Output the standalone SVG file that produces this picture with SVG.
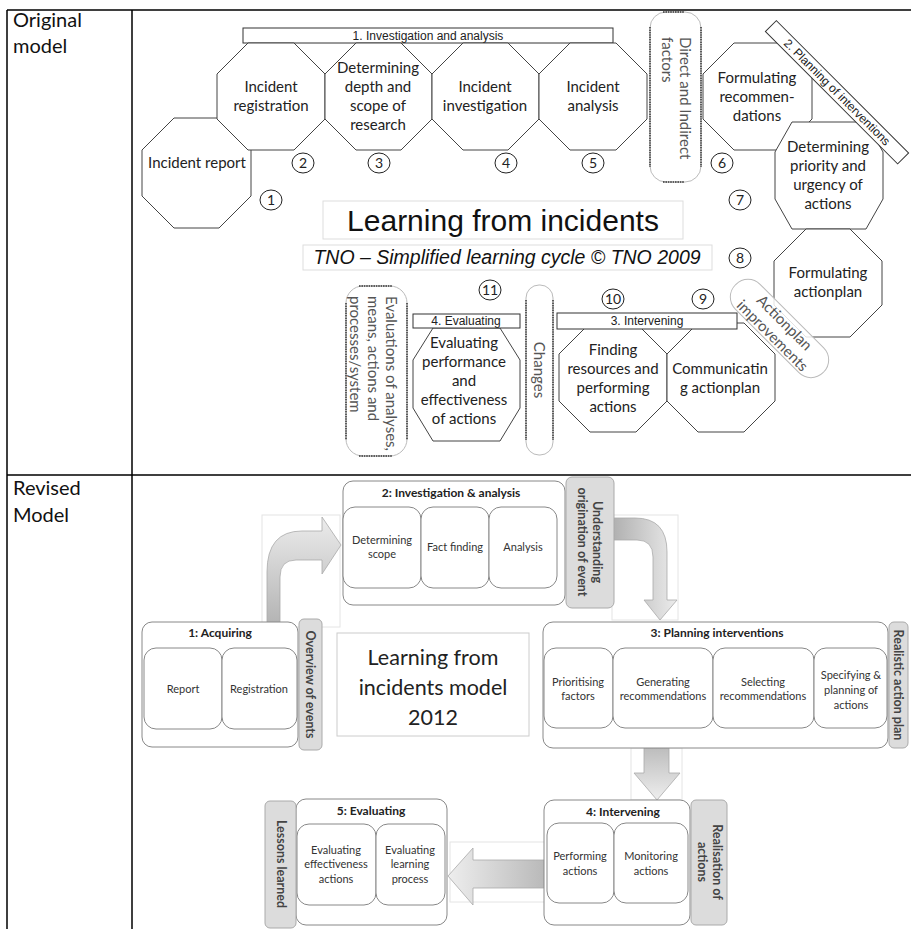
<svg xmlns="http://www.w3.org/2000/svg" width="911" height="929" viewBox="0 0 911 929">
<defs>
<style>
.grid{stroke:#000;stroke-width:1.5;fill:none}
.hd{font-family:Lato,"Open Sans",sans-serif;font-size:20px;fill:#111}
.oct{fill:#fff;stroke:#444;stroke-width:1}
.ot{font-family:Lato,"Open Sans",sans-serif;font-size:15px;fill:#222;text-anchor:middle}
.bar{fill:#fff;stroke:#333;stroke-width:1}
.bt{font-family:"Liberation Sans",Arial,sans-serif;font-size:12px;fill:#222;text-anchor:middle}
.num{fill:#fff;stroke:#222;stroke-width:1}
.nt{font-family:Lato,"Open Sans",sans-serif;font-size:14px;fill:#222;text-anchor:middle}
.pill{fill:#fff;stroke:#bbb;stroke-width:1}
.dash{stroke:#333;stroke-width:1.5;stroke-dasharray:1.6 0.8;fill:none}
.pt{font-family:Lato,"Open Sans",sans-serif;font-size:15px;fill:#555;dominant-baseline:central}
.ttl{fill:#fff;stroke:#ddd;stroke-width:1}
.box{fill:#fff;stroke:#888;stroke-width:1}
.inner{fill:#fff;stroke:#888;stroke-width:1}
.tab{fill:#dcdcdc;stroke:#aaa;stroke-width:1}
.frame{fill:none;stroke:#e4e4e4;stroke-width:1}
.bh{font-family:Lato,"Open Sans",sans-serif;font-size:12px;font-weight:bold;fill:#222;text-anchor:middle}
.it{font-family:Lato,"Open Sans",sans-serif;font-size:11px;fill:#333;text-anchor:middle}
.tt{font-family:Lato,"Open Sans",sans-serif;font-size:12.5px;font-weight:bold;fill:#444;text-anchor:middle;dominant-baseline:central}
</style>
<linearGradient id="gv" x1="0" y1="1" x2="0" y2="0">
<stop offset="0" stop-color="#b4b4b4"/><stop offset="1" stop-color="#ececec"/>
</linearGradient>
<linearGradient id="gh" x1="0" y1="0" x2="1" y2="0">
<stop offset="0" stop-color="#b0b0b0"/><stop offset="1" stop-color="#ececec"/>
</linearGradient>
<linearGradient id="gd" x1="0" y1="0" x2="0" y2="1">
<stop offset="0" stop-color="#bdbdbd"/><stop offset="1" stop-color="#eeeeee"/>
</linearGradient>
<linearGradient id="gl" x1="1" y1="0" x2="0" y2="0">
<stop offset="0" stop-color="#b8b8b8"/><stop offset="1" stop-color="#eeeeee"/>
</linearGradient>
</defs>
<rect width="911" height="929" fill="#fff"/>

<g id="table">
<path class="grid" d="M7,10 H911 M7,10 V929 M132,10 V929 M7,475 H911"/>
<text class="hd" x="13" y="27">Original</text>
<text class="hd" x="13" y="53">model</text>
<text class="hd" x="13" y="495">Revised</text>
<text class="hd" x="13" y="522">Model</text>
</g>

<!-- ORIGINAL MODEL -->
<g id="bar-investigation">
<rect class="bar" x="243" y="28" width="370" height="15"/>
<text class="bt" x="428" y="40">1. Investigation and analysis</text>
</g>
<g id="n1-incident-report">
<polygon class="oct" points="174,118 219,118 251,150 251,196 219,228 174,228 142,196 142,150"/>
<text class="ot" x="197" y="168">Incident report</text>
</g>
<g id="n2-incident-registration">
<polygon class="oct" points="248,43 294,43 325,74 325,119 294,150 248,150 217,119 217,74"/>
<text class="ot" x="271" y="92">Incident</text>
<text class="ot" x="271" y="111">registration</text>
</g>
<g id="n3-determining-depth">
<polygon class="oct" points="356,43 401,43 432,74 432,119 401,150 356,150 325,119 325,74"/>
<text class="ot" x="378" y="73">Determining</text>
<text class="ot" x="378" y="92">depth and</text>
<text class="ot" x="378" y="111">scope of</text>
<text class="ot" x="378" y="130">research</text>
</g>
<g id="n4-incident-investigation">
<polygon class="oct" points="463,43 508,43 539,74 539,119 508,150 463,150 432,119 432,74"/>
<text class="ot" x="485" y="92">Incident</text>
<text class="ot" x="485" y="111">investigation</text>
</g>
<g id="n5-incident-analysis">
<polygon class="oct" points="570,43 616,43 647,74 647,119 616,150 570,150 539,119 539,74"/>
<text class="ot" x="593" y="92">Incident</text>
<text class="ot" x="593" y="111">analysis</text>
</g>
<g id="pill-direct-factors">
<rect class="pill" x="650" y="12" width="51" height="170" rx="16"/>
<path class="dash" d="M650,27 V167 M701,27 V167 M663,12 H684 M663,182 H684"/>
<text class="pt" transform="translate(686,37) rotate(90)">Direct and Indirect</text>
<text class="pt" transform="translate(668,37) rotate(90)">factors</text>
</g>
<g id="n6-formulating-recommendations">
<polygon class="oct" points="734,43 781,43 812,74 812,119 781,150 734,150 703,119 703,74"/>
<text class="ot" x="757" y="83">Formulating</text>
<text class="ot" x="757" y="102">recommen-</text>
<text class="ot" x="757" y="121">dations</text>
</g>
<g id="n7-determining-priority">
<polygon class="oct" points="792,122 866,122 883,152 883,199 866,229 792,229 775,199 775,152"/>
<text class="ot" x="828" y="152">Determining</text>
<text class="ot" x="828" y="171">priority and</text>
<text class="ot" x="828" y="190">urgency of</text>
<text class="ot" x="828" y="209">actions</text>
</g>
<g id="bar-planning">
<rect class="bar" x="743.5" y="84.5" width="187" height="15.5" transform="rotate(45 837 92.25)"/>
<text class="bt" font-size="11" transform="translate(837,92.25) rotate(45)" dominant-baseline="central">2. Planning of interventions</text>
</g>
<g id="n8-formulating-actionplan">
<polygon class="oct" points="806,229 850,229 882,261 882,305 850,337 806,337 774,305 774,261"/>
<text class="ot" x="828" y="278">Formulating</text>
<text class="ot" x="828" y="297">actionplan</text>
</g>

<g id="title-original">
<rect class="ttl" x="323" y="201" width="360" height="38"/>
<text x="503" y="231" font-family="Liberation Sans, Arial, sans-serif" font-size="30" fill="#111" text-anchor="middle">Learning from incidents</text>
<rect class="ttl" x="303" y="245" width="409" height="25"/>
<text x="507" y="264" font-family="Liberation Sans, Arial, sans-serif" font-size="19.5" font-style="italic" fill="#111" text-anchor="middle">TNO – Simplified learning cycle © TNO 2009</text>
</g>

<g id="pill-evaluations">
<rect class="pill" x="346" y="286" width="61" height="170" rx="17"/>
<path class="dash" d="M346,303 V440 M407,303 V440 M359,286 H392 M359,456 H392"/>
<text class="pt" transform="translate(392,296) rotate(90)">Evaluations of analyses,</text>
<text class="pt" transform="translate(374,296) rotate(90)">means, actions and</text>
<text class="pt" transform="translate(356,296) rotate(90)">processes/system</text>
</g>
<g id="n11-evaluating">
<polygon class="oct" points="433,328 500,328 520,360 520,408 500,441 433,441 413,408 413,360"/>
<rect class="bar" x="413" y="314" width="107" height="14"/>
<text class="bt" x="466" y="325">4. Evaluating</text>
<text class="ot" x="464" y="348">Evaluating</text>
<text class="ot" x="464" y="367">performance</text>
<text class="ot" x="464" y="386">and</text>
<text class="ot" x="464" y="405">effectiveness</text>
<text class="ot" x="464" y="424">of actions</text>
</g>
<g id="pill-changes">
<rect class="pill" x="526" y="285" width="27" height="170" rx="13"/>
<path class="dash" d="M526,300 V440 M553,300 V440"/>
<text class="pt" transform="translate(540,370) rotate(90)" text-anchor="middle">Changes</text>
</g>
<g id="n10-finding-resources">
<polygon class="oct" points="590,323 636,323 667,354 667,401 636,432 590,432 559,401 559,354"/>
<text class="ot" x="613" y="355">Finding</text>
<text class="ot" x="613" y="374">resources and</text>
<text class="ot" x="613" y="393">performing</text>
<text class="ot" x="613" y="412">actions</text>
</g>
<g id="n9-communicating">
<polygon class="oct" points="698,323 744,323 775,354 775,401 744,432 698,432 667,401 667,354"/>
<text class="ot" x="720" y="374">Communicatin</text>
<text class="ot" x="720" y="393">g actionplan</text>
</g>
<g id="bar-intervening">
<rect class="bar" x="557" y="313" width="180" height="16"/>
<text class="bt" x="647" y="325">3. Intervening</text>
</g>
<g id="pill-actionplan-improvements">
<rect class="pill" x="717.5" y="311" width="124" height="35" rx="17" transform="rotate(45 779.5 328.5)" fill-opacity="0.85"/>
<text class="pt" transform="translate(785,322) rotate(45)" text-anchor="middle">Actionplan</text>
<text class="pt" transform="translate(773,335) rotate(45)" text-anchor="middle">improvements</text>
</g>

<g id="numbers">
<ellipse class="num" cx="271" cy="200" rx="11" ry="10"/><text class="nt" x="271" y="205">1</text>
<ellipse class="num" cx="303" cy="163" rx="11" ry="10"/><text class="nt" x="303" y="168">2</text>
<ellipse class="num" cx="379" cy="163" rx="11" ry="10"/><text class="nt" x="379" y="168">3</text>
<ellipse class="num" cx="506" cy="163" rx="11" ry="10"/><text class="nt" x="506" y="168">4</text>
<ellipse class="num" cx="593" cy="163" rx="11" ry="10"/><text class="nt" x="593" y="168">5</text>
<ellipse class="num" cx="722" cy="163" rx="11" ry="10"/><text class="nt" x="722" y="168">6</text>
<ellipse class="num" cx="740" cy="200" rx="11" ry="10"/><text class="nt" x="740" y="205">7</text>
<ellipse class="num" cx="740" cy="258" rx="11" ry="10"/><text class="nt" x="740" y="263">8</text>
<ellipse class="num" cx="703" cy="299" rx="11" ry="10"/><text class="nt" x="703" y="304">9</text>
<ellipse class="num" cx="613" cy="299" rx="11" ry="10"/><text class="nt" x="613" y="304">10</text>
<ellipse class="num" cx="490" cy="290" rx="11" ry="10"/><text class="nt" x="490" y="295">11</text>
</g>

<!-- REVISED MODEL -->
<g id="connectors">
<rect class="frame" x="262" y="515" width="78" height="112"/>
<path d="M267,623 V572 Q267,531 302,531 H322 V517 L341,545 L322,574 V560 H296 Q280,560 280,577 V623 Z" fill="url(#gv)" stroke="#aaa" stroke-width="0.8"/>
<rect class="frame" x="612" y="515" width="66" height="105"/>
<path d="M613,518 H635 Q667,518 667,552 V600 H677 L660,620 L644,600 H653 V557 Q653,540 637,540 H613 Z" fill="url(#gh)" stroke="#aaa" stroke-width="0.8"/>
<rect class="frame" x="631" y="748" width="51" height="52"/>
<path d="M644,748 H669 V773 H680 L657,800 L634,773 H644 Z" fill="url(#gd)" stroke="#aaa" stroke-width="0.8"/>
<rect class="frame" x="450" y="842" width="97" height="60"/>
<path d="M547,860 H473 V848 L448,876 L473,905 V888 H547 Z" fill="url(#gl)" stroke="#aaa" stroke-width="0.8"/>
</g>

<g id="b1-acquiring">
<rect class="box" x="142" y="622" width="156" height="125" rx="10"/>
<text class="bh" x="220" y="637">1: Acquiring</text>
<rect class="inner" x="144" y="648" width="78" height="81" rx="12"/>
<rect class="inner" x="222" y="648" width="75" height="81" rx="12"/>
<text class="it" x="183" y="693">Report</text>
<text class="it" x="259" y="693">Registration</text>
</g>
<g id="t1-overview">
<rect class="tab" x="299" y="619" width="23" height="131" rx="5"/>
<text class="tt" transform="translate(310.5,684.5) rotate(90)">Overview of events</text>
</g>

<g id="b2-investigation">
<rect class="box" x="343" y="481" width="222" height="124" rx="10"/>
<text class="bh" x="451" y="497">2: Investigation &amp; analysis</text>
<rect class="inner" x="343" y="507" width="78" height="81" rx="12"/>
<rect class="inner" x="421" y="507" width="68" height="81" rx="12"/>
<rect class="inner" x="489" y="507" width="68" height="81" rx="12"/>
<text class="it" x="382" y="544">Determining</text>
<text class="it" x="382" y="558">scope</text>
<text class="it" x="455" y="551">Fact finding</text>
<text class="it" x="523" y="551">Analysis</text>
</g>
<g id="t2-understanding">
<rect class="tab" x="566" y="477" width="48" height="131" rx="6"/>
<text class="tt" transform="translate(597,542) rotate(90)">Understanding</text>
<text class="tt" transform="translate(582,542) rotate(90)">origination of event</text>
</g>

<g id="center-title">
<rect fill="#fff" stroke="#ccc" x="337" y="633" width="192" height="103"/>
<text x="433" y="665" font-family="Lato, Open Sans, sans-serif" font-size="21.5" fill="#222" text-anchor="middle">Learning from</text>
<text x="433" y="695" font-family="Lato, Open Sans, sans-serif" font-size="21.5" fill="#222" text-anchor="middle">incidents model</text>
<text x="433" y="725" font-family="Lato, Open Sans, sans-serif" font-size="21.5" fill="#222" text-anchor="middle">2012</text>
</g>

<g id="b3-planning">
<rect class="box" x="543" y="622" width="345" height="126" rx="10"/>
<text class="bh" x="717" y="637">3: Planning interventions</text>
<rect class="inner" x="544" y="648" width="69" height="80" rx="12"/>
<rect class="inner" x="613" y="648" width="100" height="80" rx="12"/>
<rect class="inner" x="713" y="648" width="101" height="80" rx="12"/>
<rect class="inner" x="814" y="648" width="73" height="80" rx="12"/>
<text class="it" x="578" y="686">Prioritising</text>
<text class="it" x="578" y="700">factors</text>
<text class="it" x="663" y="686">Generating</text>
<text class="it" x="663" y="700">recommendations</text>
<text class="it" x="763" y="686">Selecting</text>
<text class="it" x="763" y="700">recommendations</text>
<text class="it" x="851" y="679">Specifying  &amp;</text>
<text class="it" x="851" y="694">planning of</text>
<text class="it" x="851" y="709">actions</text>
</g>
<g id="t3-realistic">
<rect class="tab" x="889" y="622" width="19" height="126" rx="5"/>
<text class="tt" transform="translate(898.5,685) rotate(90)">Realistic action plan</text>
</g>

<g id="b4-intervening">
<rect class="box" x="544" y="800" width="146" height="125" rx="10"/>
<text class="bh" x="623" y="816">4: Intervening</text>
<rect class="inner" x="547" y="823" width="67" height="80" rx="12"/>
<rect class="inner" x="614" y="823" width="74" height="80" rx="12"/>
<text class="it" x="580" y="860">Performing</text>
<text class="it" x="580" y="875">actions</text>
<text class="it" x="651" y="860">Monitoring</text>
<text class="it" x="651" y="875">actions</text>
</g>
<g id="t4-realisation">
<rect class="tab" x="691" y="800" width="36" height="125" rx="5"/>
<text class="tt" transform="translate(717,862) rotate(90)">Realisation of</text>
<text class="tt" transform="translate(702,862) rotate(90)">actions</text>
</g>

<g id="b5-evaluating">
<rect class="box" x="296" y="799" width="151" height="126" rx="10"/>
<text class="bh" x="371" y="815">5: Evaluating</text>
<rect class="inner" x="297" y="824" width="79" height="81" rx="12"/>
<rect class="inner" x="376" y="824" width="69" height="81" rx="12"/>
<text class="it" x="336" y="854">Evaluating</text>
<text class="it" x="336" y="868">effectiveness</text>
<text class="it" x="336" y="883">actions</text>
<text class="it" x="410" y="854">Evaluating</text>
<text class="it" x="410" y="868">learning</text>
<text class="it" x="410" y="883">process</text>
</g>
<g id="t5-lessons">
<rect class="tab" x="265" y="801" width="31" height="127" rx="5"/>
<text class="tt" transform="translate(281,864) rotate(90)">Lessons learned</text>
</g>
</svg>
